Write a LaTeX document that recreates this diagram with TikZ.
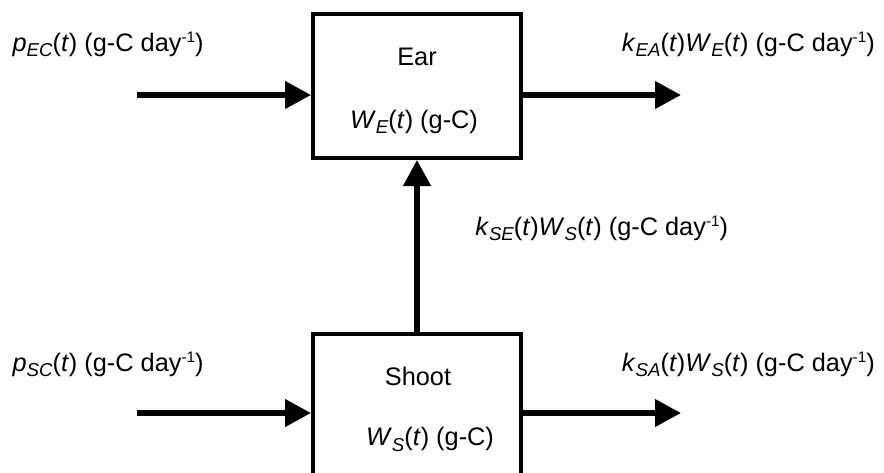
\documentclass[tikz,border=0pt]{standalone}
\usepackage{fontspec}
\setmainfont{Liberation Sans}
\usetikzlibrary{arrows.meta}
\newcommand{\lo}[1]{\raisebox{-4.3pt}{\fontsize{14}{15}\selectfont\itshape #1}}
\newcommand{\hi}[1]{\raisebox{6.3pt}{\fontsize{11.5}{12}\selectfont #1}}
\newcommand{\ti}{(\textit{t})}
\begin{document}
\begin{tikzpicture}[x=0.75pt,y=-0.75pt,
  txt/.style={inner sep=0pt,font=\fontsize{19}{22}\selectfont},
  box/.style={draw,line width=3pt,rectangle,minimum width=156pt,minimum height=108pt,inner sep=0pt},
  flow/.style={line width=4pt,-{Triangle[length=19.5pt,width=20pt]}}]
\clip (0,0) rectangle (884,472);
\fill[white] (0,0) rectangle (884,472);
\node[box] (ear) at (417,86) {};
\node[box] (shoot) at (417,406) {};
\node[txt,anchor=base] (eart) at (417,65.7) {Ear};
\node[txt,anchor=base] (earw) at (414,128) {\textit{W}\lo{E}\ti{} (g-C)};
\node[txt,anchor=base] (shoott) at (418,385) {Shoot};
\node[txt,anchor=base] (shootw) at (430,445.7) {\textit{W}\lo{S}\ti{} (g-C)};
\node[txt,anchor=base west] (pec) at (12.3,51) {\textit{p}\lo{EC}\ti{} (g-C day\hi{-1})};
\node[txt,anchor=base west] (kea) at (621.7,51) {\textit{k}\lo{EA}\ti\textit{W}\lo{E}\ti{} (g-C day\hi{-1})};
\node[txt,anchor=base west] (kse) at (475,235) {\textit{k}\lo{SE}\ti\textit{W}\lo{S}\ti{} (g-C day\hi{-1})};
\node[txt,anchor=base west] (psc) at (12.3,371) {\textit{p}\lo{SC}\ti{} (g-C day\hi{-1})};
\node[txt,anchor=base west] (ksa) at (621.7,371) {\textit{k}\lo{SA}\ti\textit{W}\lo{S}\ti{} (g-C day\hi{-1})};
\coordinate (ei) at (137,95);
\coordinate (eo) at (681,95);
\coordinate (si) at (137,413);
\coordinate (so) at (681,413);
\draw[flow] (ei) -- (ei -| ear.west);
\draw[flow] (ear.east |- eo) -- (eo);
\draw[flow] (si) -- (si -| shoot.west);
\draw[flow] (shoot.east |- so) -- (so);
\draw[flow] (shoot.north) -- (ear.south);
\end{tikzpicture}
\end{document}
